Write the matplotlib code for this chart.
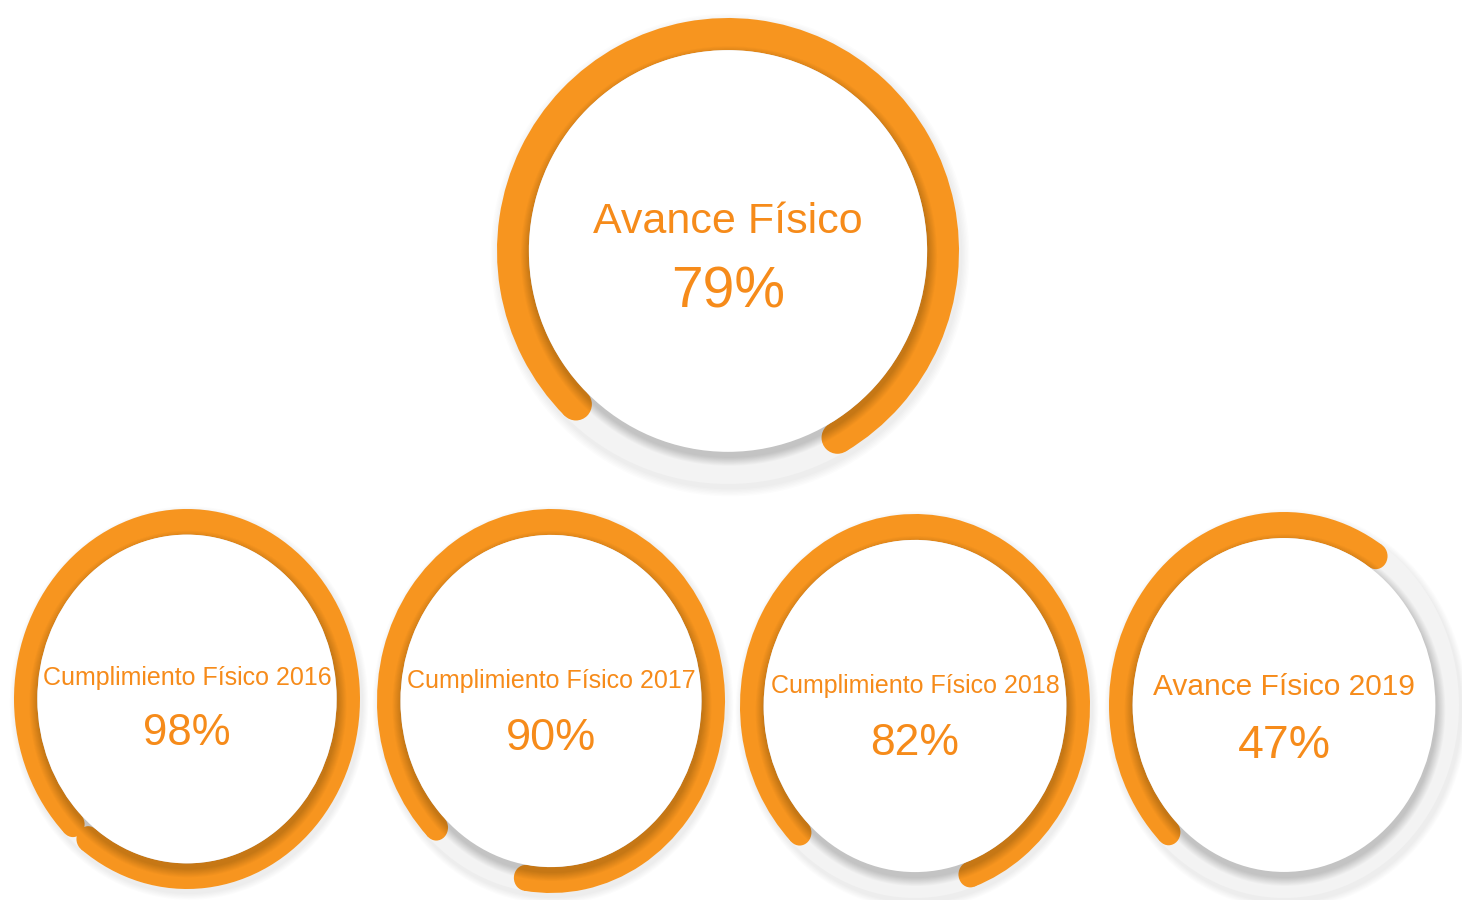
import matplotlib
matplotlib.use("Agg")
import numpy as np
import matplotlib.pyplot as plt
from matplotlib.patches import Wedge, Circle, Ellipse
from matplotlib.transforms import Affine2D

# -------- datos --------
etiquetas = ["Avance Físico", "Cumplimiento Físico 2016", "Cumplimiento Físico 2017",
             "Cumplimiento Físico 2018", "Avance Físico 2019"]
valores = [79, 98, 90, 82, 47]

# -------- disposición (px de la imagen, y hacia abajo) --------
centros = [(728, 251), (187, 699), (551, 701), (915, 706), (1284, 705)]
radios = [(231, 233), (173, 190), (174, 192), (175, 192), (175, 193)]
grosor = [0.138, 0.135, 0.135, 0.135, 0.135]
t_etiqueta = [31, 18, 18, 18, 21.5]
t_valor = [41, 31.5, 32.5, 32, 33.5]
dy_etiqueta = [-18, -14, -13, -13, -10]
dy_valor = [57, 46, 49, 49, 53]

naranja = "#F7951F"
texto = "#F68B1A"
pista = "#F3F3F3"
inicio = 225  # grados, abajo a la izquierda, sentido horario

W, H = 1462, 900
fig = plt.figure(figsize=(W / 100, H / 100), dpi=100)
ax = fig.add_axes([0, 0, 1, 1])
ax.set_xlim(0, W)
ax.set_ylim(0, H)
ax.axis("off")

for i, v in enumerate(valores):
    cx, cy = centros[i][0], H - centros[i][1]
    rx, ry = radios[i]
    w = grosor[i]
    tr = Affine2D().scale(rx, ry).translate(cx, cy) + ax.transData

    # sombra exterior
    for k in range(6):
        s = 1 + 0.006 * (6 - k)
        ax.add_patch(Ellipse((cx + 2, cy - 4), 2 * rx * s, 2 * ry * s,
                             color="black", alpha=0.012, lw=0, zorder=1))
    # pista gris
    ax.add_patch(Ellipse((cx, cy), 2 * rx, 2 * ry, color=pista, lw=0, zorder=2))

    # arco naranja con extremos redondeados
    t2 = inicio
    t1 = inicio - v / 100 * 360
    ax.add_patch(Wedge((0, 0), 1, t1, t2, width=w, color=naranja, lw=0,
                       zorder=3, transform=tr))
    rm = 1 - w / 2
    for t in (t1, t2):
        a = np.deg2rad(t)
        ax.add_patch(Circle((rm * np.cos(a), rm * np.sin(a)), w / 2,
                            color=naranja, lw=0, zorder=3, transform=tr))

    # sombra suave del disco interior
    irx, iry = rx * (1 - w), ry * (1 - w)
    n = 10
    for k in range(n):
        e = (n - k) * 0.9
        ax.add_patch(Ellipse((cx + 1, cy - 5), 2 * (irx + e), 2 * (iry + e),
                             color="black", alpha=0.02, lw=0, zorder=4))
    ax.add_patch(Ellipse((cx, cy), 2 * irx, 2 * iry, color="white", lw=0, zorder=5))

    # textos
    ax.text(cx, cy - dy_etiqueta[i], etiquetas[i], ha="center", va="baseline",
            fontsize=t_etiqueta[i], color=texto, family="Liberation Sans", zorder=6)
    ax.text(cx, cy - dy_valor[i], f"{v}%", ha="center", va="baseline",
            fontsize=t_valor[i], color=texto, family="Liberation Sans", zorder=6)

fig.savefig("out.png", dpi=100, facecolor="white")
plt.close(fig)
